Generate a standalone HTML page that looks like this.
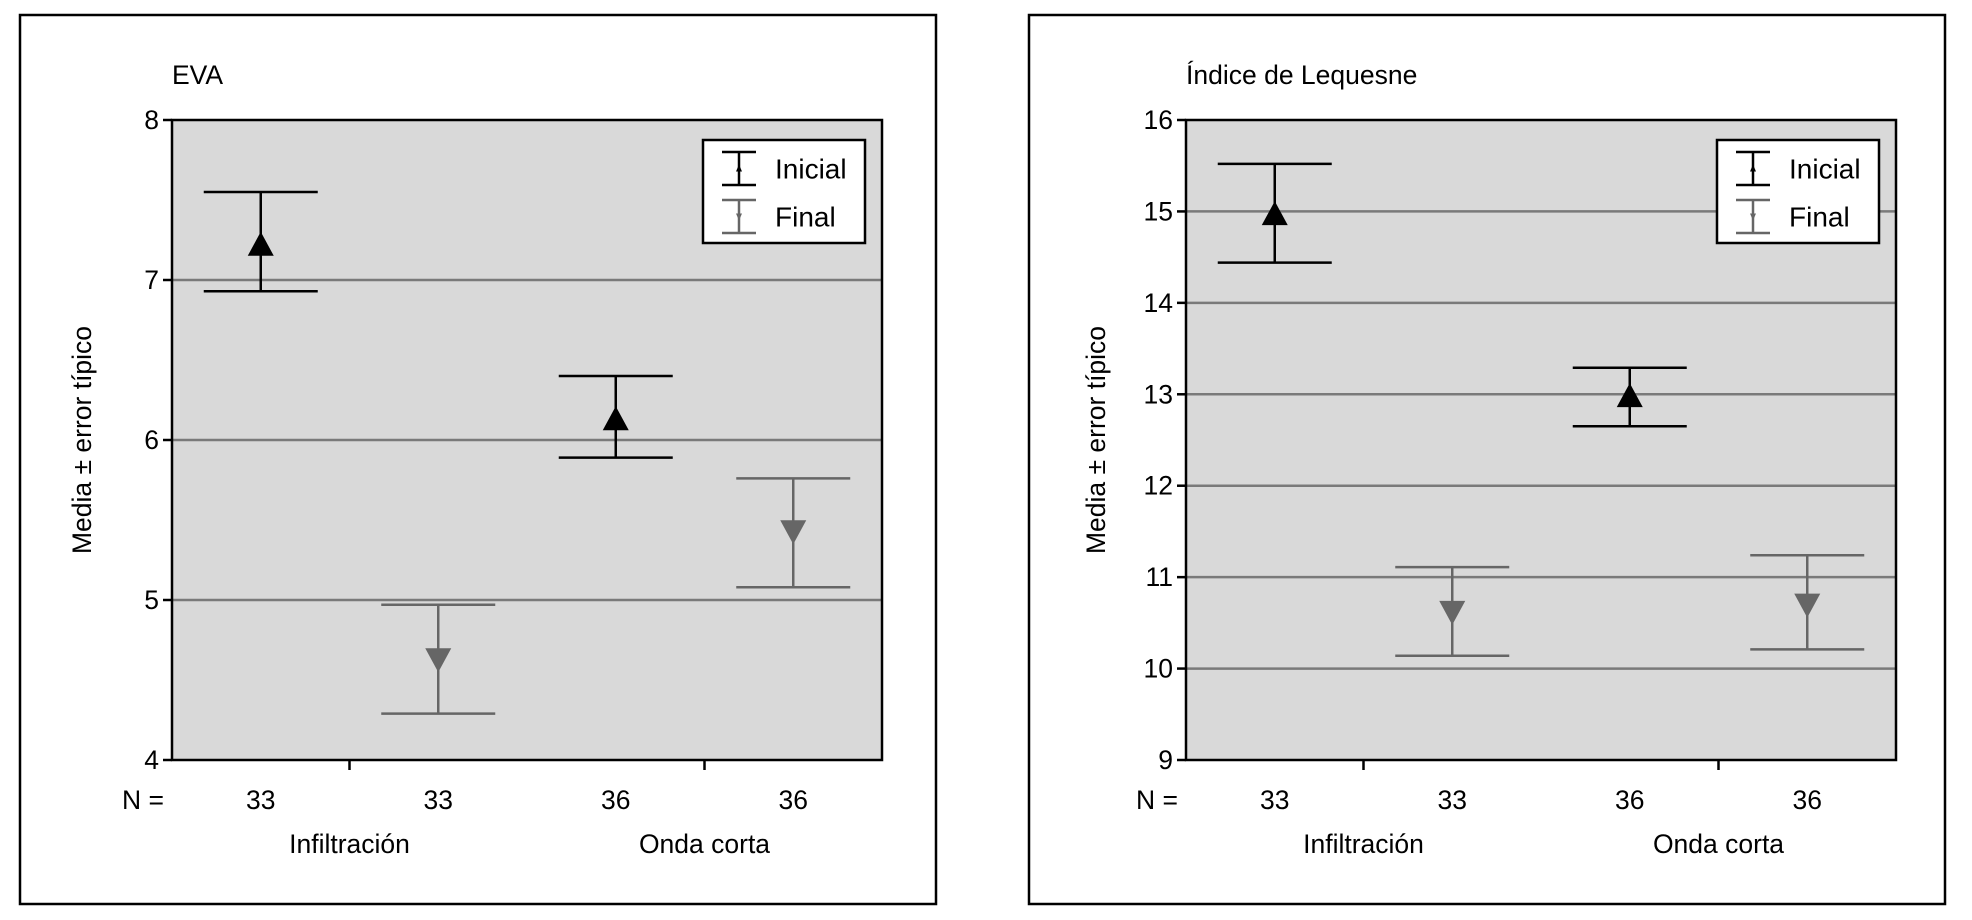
<!DOCTYPE html>
<html><head><meta charset="utf-8"><style>
html,body{margin:0;padding:0;background:#fff;}
svg{display:block;font-family:"Liberation Sans",Arial,sans-serif;}
</style></head><body>
<svg id="chart" width="1972" height="920" viewBox="0 0 1972 920" xmlns="http://www.w3.org/2000/svg"></svg>
<script>
const categories = ["Infiltración", "Infiltración", "Onda corta", "Onda corta"];
const nLabels = ["33", "33", "36", "36"];
const groupLabels = ["Infiltración", "Onda corta"];
const seriesType = ["Inicial", "Final", "Inicial", "Final"];
const evaMean = [7.22, 4.63, 6.13, 5.43];
const evaUpper = [7.55, 4.97, 6.40, 5.76];
const evaLower = [6.93, 4.29, 5.89, 5.08];
const evaTicks = [4, 5, 6, 7, 8];
const lqMean = [14.97, 10.62, 12.98, 10.7];
const lqUpper = [15.52, 11.11, 13.29, 11.24];
const lqLower = [14.44, 10.14, 12.65, 10.21];
const lqTicks = [9, 10, 11, 12, 13, 14, 15, 16];

const NS = "http://www.w3.org/2000/svg";
const svg = document.getElementById('chart');
function mk(tag, attrs, parent, text) {
  const e = document.createElementNS(NS, tag);
  for (const k in attrs) e.setAttribute(k, attrs[k]);
  if (text !== undefined) e.textContent = text;
  (parent || svg).appendChild(e);
  return e;
}
const FS = 26.5;
function panel(fo, off, title, ticks, mean, upper, lower, id) {
  const g = mk('g', {});
  
  
  const L = 172 + off, R = 882 + off, T = 120, B = 760;
  const ymin = ticks[0], ymax = ticks[ticks.length - 1];
  const y = v => B - (v - ymin) / (ymax - ymin) * (B - T);
  const x = i => L + (2 * i + 1) / 8 * (R - L);
  const frame = mk('rect', {x: 20 + fo, y: 15, width: 916, height: 889, fill: 'none', stroke: '#000', 'stroke-width': 2.5}, g);
  
  
  const bg = mk('rect', {x: L, y: T, width: R - L, height: B - T, fill: '#d9d9d9'}, g);
  
  
  const tt = mk('text', {x: L, y: 84, 'font-size': FS}, g, title);
  
  
  ticks.forEach(t => {
    if (t !== ymin && t !== ymax) {
      const gl = mk('line', {x1: L, x2: R, y1: y(t), y2: y(t), stroke: '#7a7a7a', 'stroke-width': 2.5}, g);
      
      
    }
    mk('line', {x1: L - 9, x2: L, y1: y(t), y2: y(t), stroke: '#000', 'stroke-width': 2.5}, g);
    const tl = mk('text', {x: L - 13, y: y(t) + 9, 'font-size': FS, 'text-anchor': 'end'}, g, String(t));
    
    
  });
  mk('rect', {x: L, y: T, width: R - L, height: B - T, fill: 'none', stroke: '#000', 'stroke-width': 2.5}, g);
  [2, 6].forEach(k => mk('line', {x1: L + k / 8 * (R - L), x2: L + k / 8 * (R - L), y1: B, y2: B + 10, stroke: '#000', 'stroke-width': 2.5}, g));
  const yt = mk('text', {x: 0, y: 0, 'font-size': FS, 'text-anchor': 'middle', transform: `translate(${off + 91},${(T + B) / 2}) rotate(-90)`}, g, 'Media ± error típico');
  
  
  const nl = mk('text', {x: L - 8, y: 809, 'font-size': FS, 'text-anchor': 'end'}, g, 'N =');
  
  
  for (let i = 0; i < 4; i++) {
    const c = seriesType[i] === 'Inicial' ? '#000' : '#666';
    const xi = x(i), hw = 57;
    const eb = mk('g', {stroke: c, 'stroke-width': 2.5, fill: c}, g);
    
    
    mk('line', {x1: xi, x2: xi, y1: y(upper[i]), y2: y(lower[i])}, eb);
    mk('line', {x1: xi - hw, x2: xi + hw, y1: y(upper[i]), y2: y(upper[i])}, eb);
    mk('line', {x1: xi - hw, x2: xi + hw, y1: y(lower[i]), y2: y(lower[i])}, eb);
    const m = y(mean[i]);
    if (seriesType[i] === 'Inicial')
      mk('polygon', {points: `${xi},${m - 13} ${xi - 13},${m + 11} ${xi + 13},${m + 11}`, stroke: 'none'}, eb);
    else
      mk('polygon', {points: `${xi},${m + 13} ${xi - 13},${m - 11} ${xi + 13},${m - 11}`, stroke: 'none'}, eb);
    const n = mk('text', {x: xi, y: 809, 'font-size': FS, 'text-anchor': 'middle'}, g, nLabels[i]);
    
    
  }
  groupLabels.forEach((lab, k) => {
    const gx = L + (2 + 4 * k) / 8 * (R - L);
    const t = mk('text', {x: gx, y: 853, 'font-size': FS, 'text-anchor': 'middle'}, g, lab);
    
    
  });
  const lx = 703 + off, ly = 140;
  const lg = mk('g', {}, g);
  
  
  mk('rect', {x: lx, y: ly, width: 162, height: 103, fill: '#fff', stroke: '#000', 'stroke-width': 2.5}, lg);
  [['Inicial', '#000', 0], ['Final', '#666', 1]].forEach(([lab, c, k]) => {
    const cx = lx + 36, top = ly + 12 + k * 48, bot = top + 33;
    const e = mk('g', {stroke: c, 'stroke-width': 2.5, fill: c}, lg);
    
    
    mk('line', {x1: cx, x2: cx, y1: top, y2: bot}, e);
    mk('line', {x1: cx - 17, x2: cx + 17, y1: top, y2: top}, e);
    mk('line', {x1: cx - 17, x2: cx + 17, y1: bot, y2: bot}, e);
    const mm = (top + bot) / 2;
    mk('polygon', {points: k === 0 ? `${cx},${mm - 4} ${cx - 3},${mm + 3} ${cx + 3},${mm + 3}` : `${cx},${mm + 4} ${cx - 3},${mm - 3} ${cx + 3},${mm - 3}`, stroke: 'none'}, e);
    mk('text', {x: lx + 72, y: mm + 10, 'font-size': 28, fill: '#000', stroke: 'none'}, e, lab);
  });
}
panel(0, 0, 'EVA', evaTicks, evaMean, evaUpper, evaLower, 'eva');
panel(1009, 1014, 'Índice de Lequesne', lqTicks, lqMean, lqUpper, lqLower, 'lequesne');
</script>
</body></html>
